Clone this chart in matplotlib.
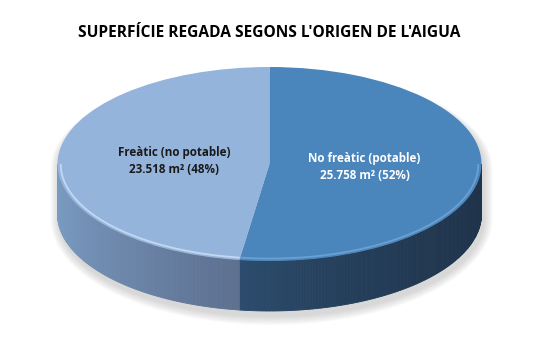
import numpy as np
import matplotlib.pyplot as plt
from matplotlib.patches import Polygon
from matplotlib.colors import to_rgb

# Chart data
titol = "SUPERFÍCIE REGADA SEGONS L'ORIGEN DE L'AIGUA"
categories = ['No freàtic (potable)', 'Freàtic (no potable)']
superficie = [25758, 23518]  # m2
colors_top = ['#4a86bc', '#95b4dc']
colors_label = ['white', '#1a1a1a']
# side wall gradient (left end, right end) for each slice
colors_side = [('#2d4e70', '#1f344b'), ('#7b9dc4', '#5d7090')]
colors_rim = ['#6ea3d6', '#c9dcf3']

# Layout of the pseudo 3d pie (pixels)
W, H = 541, 361
cx, cy = 269.5, 197.0   # centre of top ellipse, from bottom-left
rx, ry = 212.0, 97.0
depth = 50.0 / ry

fig = plt.figure(figsize=(W / 100, H / 100), dpi=100)
ax = fig.add_axes([0, 0, 1, 1])

total = sum(superficie)
labels = []
for cat, v in zip(categories, superficie):
    num = f'{v:,}'.replace(',', '.')
    labels.append(f'{cat}\n{num} m\u00b2 ({100 * v / total:.0f}%)')

wedges, texts = ax.pie(superficie, labels=labels, colors=colors_top, startangle=90,
                       counterclock=False, labeldistance=0.45,
                       wedgeprops=dict(edgecolor='none', zorder=5),
                       textprops=dict(fontsize=8.4, fontweight='bold',
                                      family='Open Sans', zorder=10))
ax.set_aspect('auto')
ax.set_xlim(-cx / rx, (W - cx) / rx)
ax.set_ylim(-cy / ry, (H - cy) / ry)
ax.axis('off')

for t, c in zip(texts, colors_label):
    t.set_ha('center')
    t.set_va('center')
    t.set_color(c)
    t.set_linespacing(1.4)

# soft shadow under the pie
a = np.linspace(0, 2 * np.pi, 300)
for k in range(1, 10):
    sx = np.cos(a) * (1 + k / rx) + 2 / rx
    sy = np.sin(a) * (1 + 0.3 * k / ry) - 5 / ry
    sy = np.where(np.sin(a) < 0, sy - depth - 0.7 * k / ry * np.abs(np.sin(a)), sy)
    ax.add_patch(Polygon(np.column_stack([sx, sy]), closed=True, facecolor='#808080',
                         edgecolor='none', alpha=0.035, zorder=1))

# side wall, only the front half is visible
for w, (c0, c1), rim in zip(wedges, colors_side, colors_rim):
    t1, t2 = sorted([w.theta1, w.theta2])
    lo, hi = 180, 180
    for off in (0, 360, -360):
        l, h = max(t1 + off, 180), min(t2 + off, 360)
        if h > l:
            lo, hi = l, h
            break
    if hi <= lo:
        continue
    ang = np.radians(np.linspace(lo, hi, 120))
    xs = np.cos(ang)
    x0, x1 = xs.min(), xs.max()
    c0, c1 = np.array(to_rgb(c0)), np.array(to_rgb(c1))
    for i in range(len(ang) - 1):
        xa, xb = np.cos(ang[i]), np.cos(ang[i + 1])
        ya, yb = np.sin(ang[i]), np.sin(ang[i + 1])
        f = ((xa + xb) / 2 - x0) / (x1 - x0)
        col = c0 + (c1 - c0) * f ** 0.7
        ax.add_patch(Polygon([[xa, ya], [xb, yb], [xb, yb - depth], [xa, ya - depth]],
                             closed=True, facecolor=col, edgecolor=col, lw=0.6, zorder=3))
    # light rim along the front edge of the top
    ax.plot(0.985 * np.cos(ang), 0.975 * np.sin(ang), color=rim, lw=1.3,
            alpha=0.9, zorder=6, solid_capstyle='butt')

fig.text(cx / W, 1 - 33 / H, titol, ha='center', va='center', fontsize=11.2,
         fontweight='bold', family='Open Sans', color='black')

fig.savefig('out.png', dpi=100)
